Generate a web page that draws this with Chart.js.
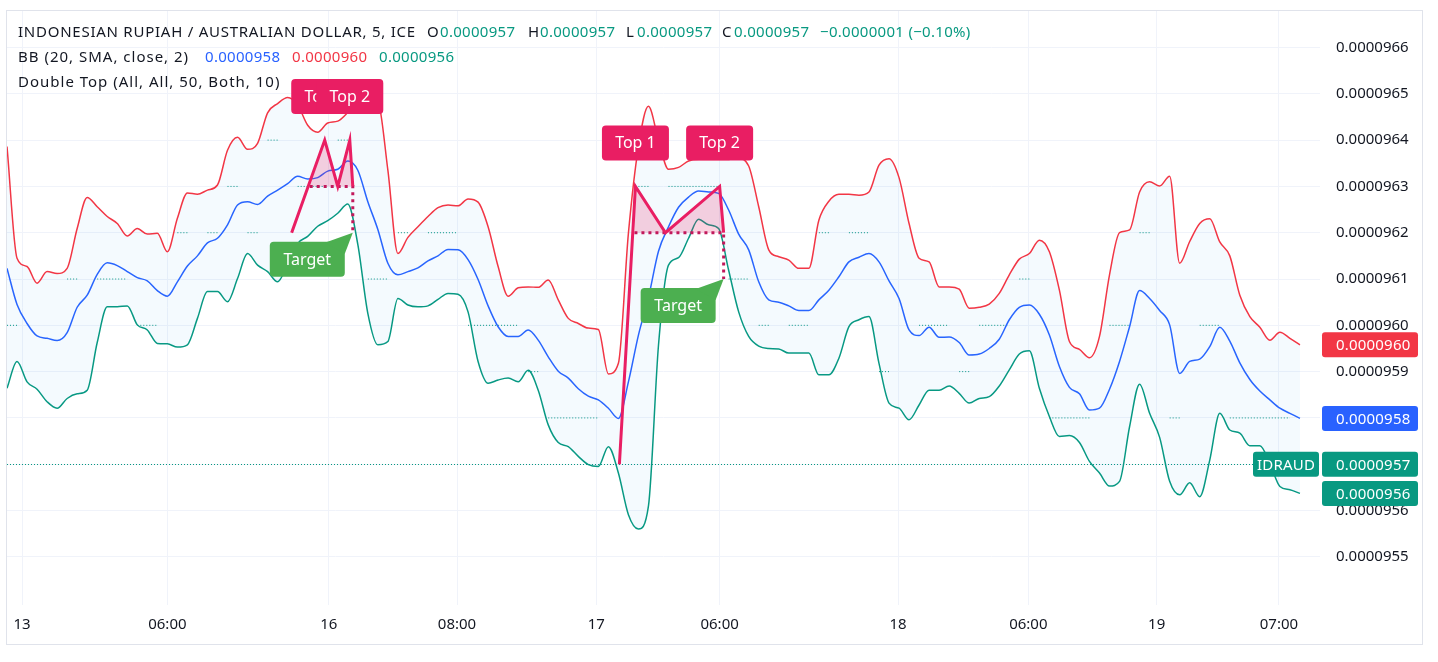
<!DOCTYPE html>
<html>
<head>
<meta charset="utf-8">
<script src="https://cdn.jsdelivr.net/npm/chart.js@4.4.1/dist/chart.umd.min.js"></script>
<style>
    html, body { margin: 0; padding: 0; background: #ffffff; }
    #wrap { width: 1438px; height: 662px; }
</style>
</head>
<body>
<div id="wrap"><canvas id="chart" width="1438" height="662"></canvas></div>
<script>
// Prices are kept in units of 1e-7 AUD (962 -> 0.0000962), one value per bar slot
const upper = [
    963.86, 961.45, 961.27, 960.91, 961.16, 961.12, 961.23, 962.09, 962.76, 962.56,
    962.35, 962.20, 961.93, 962.09, 961.97, 961.99, 961.59, 962.31, 962.86, 962.83,
    962.92, 963.03, 963.78, 964.06, 963.80, 963.93, 964.59, 964.79, 964.92, 964.76,
    964.32, 964.17, 964.37, 964.41, 964.60, 964.86, 964.97, 964.86, 963.35, 961.55,
    961.90, 962.13, 962.35, 962.54, 962.60, 962.58, 962.73, 962.66, 962.13, 961.27,
    960.63, 960.81, 960.83, 960.82, 960.98, 960.55, 960.15, 960.04, 959.94, 959.91,
    958.95, 959.18, 961.99, 963.86, 964.73, 964.00, 963.37, 963.41, 963.55, 963.58,
    963.58, 963.58, 963.58, 963.60, 963.44, 962.56, 961.63, 961.48, 961.41, 961.23,
    961.23, 962.27, 962.68, 962.83, 962.83, 962.81, 962.88, 963.46, 963.60, 963.19,
    962.20, 961.45, 961.37, 960.83, 960.83, 960.78, 960.37, 960.39, 960.46, 960.69,
    961.09, 961.43, 961.55, 961.84, 961.59, 960.76, 959.65, 959.48, 959.30, 959.76,
    961.09, 962.00, 962.06, 962.88, 963.10, 963.01, 963.22, 961.34, 961.81, 962.20,
    962.30, 961.80, 961.50, 960.65, 960.19, 959.96, 959.68, 959.85, 959.72, 959.58
];
const basis = [
    961.23, 960.45, 960.04, 959.77, 959.72, 959.67, 959.84, 960.39, 960.65, 961.10,
    961.35, 961.29, 961.16, 961.03, 960.96, 960.75, 960.63, 960.94, 961.28, 961.50,
    961.78, 961.88, 962.17, 962.60, 962.67, 962.61, 962.79, 962.92, 963.06, 963.22,
    963.16, 963.19, 963.33, 963.37, 963.55, 963.35, 962.67, 962.07, 961.34, 961.09,
    961.16, 961.24, 961.39, 961.50, 961.64, 961.63, 961.42, 960.99, 960.42, 959.97,
    959.76, 959.76, 959.90, 959.68, 959.32, 959.01, 958.86, 958.63, 958.47, 958.39,
    958.21, 957.99, 958.78, 959.79, 960.60, 961.60, 962.13, 962.55, 962.77, 962.90,
    962.88, 962.85, 962.49, 961.97, 961.63, 960.94, 960.55, 960.50, 960.42, 960.32,
    960.32, 960.55, 960.76, 961.05, 961.37, 961.47, 961.55, 961.37, 960.96, 960.58,
    959.90, 959.78, 959.96, 959.74, 959.75, 959.63, 959.36, 959.38, 959.50, 959.70,
    960.12, 960.39, 960.44, 960.24, 959.79, 959.11, 958.66, 958.52, 958.17, 958.21,
    958.62, 959.22, 959.97, 960.75, 960.58, 960.32, 960.01, 958.96, 959.22, 959.27,
    959.54, 959.96, 959.66, 959.19, 958.83, 958.58, 958.39, 958.21, 958.10, 957.99
];
const lower = [
    958.64, 959.22, 958.78, 958.62, 958.35, 958.21, 958.42, 958.52, 958.60, 959.63,
    960.40, 960.40, 960.42, 960.01, 959.90, 959.61, 959.60, 959.53, 959.58, 960.15,
    960.73, 960.73, 960.51, 961.01, 961.55, 961.30, 961.16, 960.94, 961.32, 961.77,
    961.92, 962.14, 962.26, 962.42, 962.62, 961.75, 960.26, 959.58, 959.65, 960.58,
    960.44, 960.40, 960.42, 960.56, 960.69, 960.67, 960.29, 959.22, 958.75, 958.82,
    958.86, 958.78, 959.03, 958.60, 957.85, 957.47, 957.38, 957.17, 956.99, 956.95,
    957.38, 956.81, 955.91, 955.60, 956.10, 959.57, 961.30, 961.46, 961.88, 962.29,
    962.17, 962.09, 961.19, 960.29, 959.76, 959.55, 959.50, 959.49, 959.40, 959.40,
    959.40, 958.93, 958.93, 959.29, 959.97, 960.12, 960.19, 959.18, 958.32, 958.21,
    957.96, 958.28, 958.60, 958.60, 958.69, 958.53, 958.32, 958.42, 958.46, 958.69,
    959.04, 959.38, 959.45, 958.64, 958.03, 957.60, 957.62, 957.47, 957.06, 956.81,
    956.53, 956.63, 957.81, 958.73, 958.10, 957.58, 956.63, 956.34, 956.60, 956.30,
    957.09, 958.10, 957.74, 957.67, 957.40, 957.40, 957.02, 956.52, 956.45, 956.37
];
const close = [
    960, 960, 959, 960, 959, 960, 961, 961, 962, 961,
    961, 961, 961, 960, 960, 960, 961, 962, 962, 961,
    962, 962, 963, 963, 962, 962, 964, 964, 962, 963,
    963, 963, 963, 964, 964, 962, 961, 961, 961, 962,
    962, 961, 962, 962, 962, 962, 960, 960, 960, 960,
    960, 960, 959, 959, 958, 958, 958, 958, 958, 958,
    959, 957, 960, 963, 963, 962, 963, 963, 963, 963,
    963, 963, 961, 961, 961, 960, 960, 961, 960, 960,
    960, 962, 962, 961, 962, 962, 962, 959, 959, 961,
    959, 960, 960, 960, 960, 959, 959, 960, 960, 960,
    960, 961, 961, 959, 958, 958, 958, 958, 958, 959,
    960, 960, 960, 962, 962, 959, 958, 958, 961, 960,
    960, 960, 958, 958, 958, 958, 958, 958, 958, 957
];

// time axis: bar slot of each label
const timeIdx = [1.5, 16, 32.1, 44.9, 58.8, 71.1, 88.9, 101.9, 114.7, 126.9];
const timeLabels = ["13", "06:00", "16", "08:00", "17", "06:00", "18", "06:00", "19", "07:00"];
const priceTicks = [955, 956, 957, 958, 959, 960, 961, 962, 963, 964, 965, 966];

// last bar O, H, L, C and change (price units, percent)
const ohlc = [957, 957, 957, 957];
const change = [-1, -0.10];

// double top patterns: start, top 1, trough, top 2, end
const topA_idx = [28.4, 31.7, 33.0, 34.2, 34.5];
const topA_px = [962, 964, 963, 964, 963];
const topB_idx = [61.1, 62.7, 65.7, 71.1, 71.5];
const topB_px = [957, 963, 962, 963, 962];
const neckStart = [30.2, 62.6];
const targets = [962, 961];

const RED = "#F23645";
const BLUE = "#2962FF";
const GREEN = "#089981";
const PINK = "#E91E63";
const TARGET = "#4CAF50";
const DARK = "#131722";
const FONT = '"Noto Sans", sans-serif';

Chart.defaults.font.family = FONT;
Chart.defaults.font.size = 15;
Chart.defaults.color = DARK;

const fmt = (v) => (v / 1e7).toFixed(7);
const series = (arr) => arr.map((v, i) => ({ x: i, y: v }));
const pts = (xs, ys) => xs.map((x, i) => ({ x: x, y: ys[i] }));

// M shape from the neckline start, used for the pink fill
function fillPoints(idx, px, start) {
    return [{ x: start, y: px[2] }].concat(pts(idx.slice(1), px.slice(1)));
}
// neckline then the drop to the target
function neckPoints(idx, px, start, target) {
    return [{ x: start, y: px[2] }, { x: idx[4], y: px[2] }, { x: idx[4], y: target }];
}

function roundRect(ctx, x, y, w, h, r) {
    ctx.beginPath();
    ctx.moveTo(x + r, y);
    ctx.lineTo(x + w - r, y);
    ctx.quadraticCurveTo(x + w, y, x + w, y + r);
    ctx.lineTo(x + w, y + h - r);
    ctx.quadraticCurveTo(x + w, y + h, x + w - r, y + h);
    ctx.lineTo(x + r, y + h);
    ctx.quadraticCurveTo(x, y + h, x, y + h - r);
    ctx.lineTo(x, y + r);
    ctx.quadraticCurveTo(x, y, x + r, y);
    ctx.closePath();
}

// dotted price line of the last close
const priceLinePlugin = {
    id: "priceLine",
    beforeDatasetsDraw(chart) {
        const { ctx, chartArea } = chart;
        const y = Math.round(chart.scales.y.getPixelForValue(close[close.length - 1])) + 0.5;
        ctx.save();
        ctx.strokeStyle = GREEN;
        ctx.lineWidth = 1;
        ctx.setLineDash([1, 2]);
        ctx.beginPath();
        ctx.moveTo(chartArea.left, y);
        ctx.lineTo(chartArea.right, y);
        ctx.stroke();
        ctx.restore();
    },
};

// "Top 1" / "Top 2" / "Target" boxes
const patternLabelPlugin = {
    id: "patternLabels",
    afterDatasetsDraw(chart) {
        const { ctx } = chart;
        const xs = chart.scales.x;
        const ys = chart.scales.y;
        ctx.save();
        ctx.font = "16px " + FONT;
        ctx.textAlign = "center";
        ctx.textBaseline = "middle";

        [[topA_idx, topA_px, targets[0]], [topB_idx, topB_px, targets[1]]].forEach(([idx, px, target]) => {
            // top labels
            [[1, "Top 1"], [3, "Top 2"]].forEach(([k, text]) => {
                const cx = xs.getPixelForValue(idx[k]);
                const py = ys.getPixelForValue(px[k]);
                const w = 67, h = 35;
                ctx.fillStyle = PINK;
                roundRect(ctx, cx - w / 2, py - 26 - h, w, h, 4);
                ctx.fill();
                ctx.fillStyle = "#ffffff";
                ctx.fillText(text, cx, py - 26 - h / 2 + 1);
            });

            // target label
            const tx = xs.getPixelForValue(idx[4]);
            const ty = ys.getPixelForValue(target);
            const w = 75, h = 35;
            const right = tx - 8, top = ty + 9;
            ctx.fillStyle = TARGET;
            roundRect(ctx, right - w, top, w, h, 4);
            ctx.fill();
            ctx.beginPath();
            ctx.moveTo(right - 20, top + 1);
            ctx.lineTo(right, top + 12);
            ctx.lineTo(tx, ty);
            ctx.closePath();
            ctx.fill();
            ctx.fillStyle = "#ffffff";
            ctx.fillText("Target", right - w / 2, top + h / 2 + 1);
        });
        ctx.restore();
    },
};

// header legend, last value badges and outer frame
const overlayPlugin = {
    id: "overlay",
    afterDraw(chart) {
        const { ctx, chartArea } = chart;
        const ys = chart.scales.y;
        ctx.save();
        ctx.font = "15px " + FONT;
        ctx.textBaseline = "middle";
        ctx.textAlign = "left";

        const chg = "\u2212" + fmt(Math.abs(change[0])) + " (\u2212" + Math.abs(change[1]).toFixed(2) + "%)";
        // [text, x, colour, letter spacing]
        const rows = [
            [33, [
                ["INDONESIAN RUPIAH / AUSTRALIAN DOLLAR, 5, ICE", 18, DARK, "0.75px"],
                ["O", 427, DARK, "0px"], [fmt(ohlc[0]), 440, GREEN, "0.3px"],
                ["H", 528, DARK, "0px"], [fmt(ohlc[1]), 540, GREEN, "0.3px"],
                ["L", 626, DARK, "0px"], [fmt(ohlc[2]), 637, GREEN, "0.3px"],
                ["C", 722, DARK, "0px"], [fmt(ohlc[3]), 734, GREEN, "0.3px"],
                [chg, 820, GREEN, "0.3px"],
            ]],
            [58, [
                ["BB (20, SMA, close, 2)", 18, DARK, "1px"],
                [fmt(basis[basis.length - 1]), 205, BLUE, "0.3px"],
                [fmt(upper[upper.length - 1]), 292, RED, "0.3px"],
                [fmt(lower[lower.length - 1]), 379, GREEN, "0.3px"],
            ]],
            [83, [["Double Top (All, All, 50, Both, 10)", 18, DARK, "1px"]]],
        ];
        rows.forEach(([y, items]) => {
            items.forEach(([text, x, color, spacing]) => {
                // the reference face is wider than Noto Sans, so open the text up a little
                ctx.letterSpacing = spacing;
                ctx.fillStyle = color;
                ctx.fillText(text, x, y);
            });
        });
        ctx.letterSpacing = "0.2px";

        // badges on the price axis
        const bx = chartArea.right + 2, bw = 96, bh = 25;
        const badge = (value, color, label) => {
            const y = ys.getPixelForValue(value);
            ctx.fillStyle = color;
            roundRect(ctx, bx, y - bh / 2, bw, bh, 3);
            ctx.fill();
            ctx.fillStyle = "#ffffff";
            ctx.textAlign = "left";
            ctx.fillText(fmt(value), chartArea.right + 16, y + 1);
            if (label) {
                ctx.fillStyle = color;
                roundRect(ctx, chartArea.right - 67, y - bh / 2, 66, bh, 3);
                ctx.fill();
                ctx.fillStyle = "#ffffff";
                ctx.textAlign = "center";
                ctx.fillText(label, chartArea.right - 34, y + 1);
            }
        };
        badge(upper[upper.length - 1], RED);
        badge(basis[basis.length - 1], BLUE);
        badge(close[close.length - 1], GREEN, "IDRAUD");
        badge(lower[lower.length - 1], GREEN);

        // outer frame
        ctx.strokeStyle = "#e0e3eb";
        ctx.lineWidth = 1;
        ctx.strokeRect(6.5, 10.5, 1416, 634);
        ctx.restore();
    },
};

const ctx = document.getElementById("chart").getContext("2d");

new Chart(ctx, {
    type: "line",
    data: {
        datasets: [
            {
                // 0: upper band, filled down to the lower band
                data: series(upper),
                borderColor: RED,
                borderWidth: 1.5,
                fill: 2,
                backgroundColor: "rgba(33, 150, 243, 0.05)",
                cubicInterpolationMode: "monotone",
                order: 5,
            },
            {
                data: series(basis),
                borderColor: BLUE,
                borderWidth: 1.5,
                fill: false,
                cubicInterpolationMode: "monotone",
                order: 5,
            },
            {
                data: series(lower),
                borderColor: GREEN,
                borderWidth: 1.5,
                fill: false,
                cubicInterpolationMode: "monotone",
                order: 5,
            },
            {
                // close, only flat stretches are visible
                data: series(close),
                borderColor: GREEN,
                borderWidth: 1,
                borderDash: [1, 2],
                fill: false,
                segment: {
                    borderColor: (c) => (c.p0.parsed.y === c.p1.parsed.y ? GREEN : "rgba(0,0,0,0)"),
                },
                order: 6,
            },
            {
                data: fillPoints(topA_idx, topA_px, neckStart[0]),
                borderWidth: 0,
                borderColor: "rgba(0,0,0,0)",
                backgroundColor: "rgba(233, 30, 99, 0.2)",
                fill: { value: topA_px[2] },
                order: 3,
            },
            {
                data: fillPoints(topB_idx, topB_px, neckStart[1]),
                borderWidth: 0,
                borderColor: "rgba(0,0,0,0)",
                backgroundColor: "rgba(233, 30, 99, 0.2)",
                fill: { value: topB_px[2] },
                order: 3,
            },
            {
                data: neckPoints(topA_idx, topA_px, neckStart[0], targets[0]),
                borderColor: "#c2185b",
                borderWidth: 3,
                borderDash: [3, 4],
                fill: false,
                order: 1,
            },
            {
                data: neckPoints(topB_idx, topB_px, neckStart[1], targets[1]),
                borderColor: "#c2185b",
                borderWidth: 3,
                borderDash: [3, 4],
                fill: false,
                order: 1,
            },
            {
                data: pts(topA_idx, topA_px),
                borderColor: PINK,
                borderWidth: 3,
                fill: false,
                order: 0,
            },
            {
                data: pts(topB_idx, topB_px),
                borderColor: PINK,
                borderWidth: 3,
                fill: false,
                order: 0,
            },
        ],
    },
    options: {
        responsive: false,
        animation: false,
        devicePixelRatio: 1,
        layout: { padding: { left: 7, top: 10, right: 15, bottom: 17 } },
        elements: { point: { radius: 0, hoverRadius: 0 }, line: { tension: 0 } },
        plugins: {
            legend: { display: false },
            tooltip: { enabled: false },
        },
        scales: {
            x: {
                type: "linear",
                min: 0,
                max: 131,
                afterBuildTicks: (scale) => {
                    scale.ticks = timeIdx.map((v) => ({ value: v }));
                },
                afterFit: (scale) => {
                    scale.height = 40;
                    scale.paddingLeft = 0;
                    scale.paddingRight = 0;
                },
                ticks: {
                    autoSkip: false,
                    maxRotation: 0,
                    padding: 11,
                    color: DARK,
                    callback: (value, index) => timeLabels[index],
                },
                grid: { color: "#f0f3fa", drawTicks: false },
                border: { display: false },
            },
            y: {
                position: "right",
                min: 953.96,
                max: 966.81,
                afterBuildTicks: (scale) => {
                    scale.ticks = priceTicks.map((v) => ({ value: v }));
                },
                afterFit: (scale) => {
                    scale.width = 103;
                    scale.paddingTop = 0;
                    scale.paddingBottom = 0;
                },
                ticks: {
                    padding: 16,
                    color: DARK,
                    callback: (value) => fmt(value),
                },
                grid: { color: "#f0f3fa", drawTicks: false },
                border: { display: false },
            },
        },
    },
    plugins: [priceLinePlugin, patternLabelPlugin, overlayPlugin],
});
</script>
</body>
</html>
